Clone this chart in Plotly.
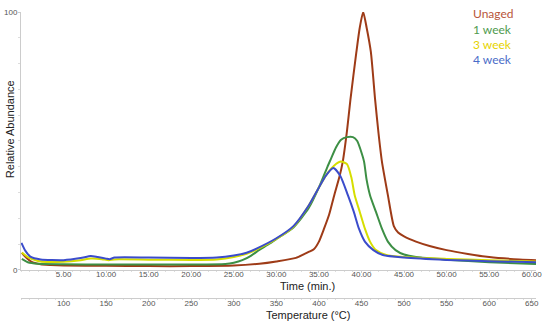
import plotly.graph_objects as go

# ---- data ----
t_unaged = [0.1, 0.6, 1.2, 2.3, 3.5, 5, 10, 15, 20, 25, 28, 30, 32.3, 33.8, 34.4, 35.0, 35.6, 36.2, 36.8, 37.4, 37.8, 38.3, 38.7, 39.4, 39.8, 40.2, 40.6, 41.1, 41.6, 42.0, 42.4, 43.1, 43.8, 44.3, 45.0, 46.4, 48, 50, 52.5, 55, 57.5, 60.5]
v_unaged = [6.6, 4.8, 3.2, 2.2, 1.9, 1.7, 1.6, 1.5, 1.5, 1.7, 2.4, 3.3, 4.7, 7.0, 8.0, 11.0, 16.0, 21.5, 29.0, 36.0, 42.0, 54.0, 66.0, 84.5, 94.0, 100.0, 94.0, 84.5, 66.0, 53.0, 42.0, 29.0, 17.0, 14.5, 13.0, 11.0, 9.3, 7.7, 6.2, 5.0, 4.3, 3.8]

t_1week = [0.1, 0.8, 2, 5, 10, 15, 20, 24, 25, 26, 27, 28, 29, 30, 32, 33.8, 35, 36, 36.4, 37, 37.6, 38.3, 39.0, 39.5, 39.9, 40.3, 40.6, 41.0, 41.7, 42.4, 43.1, 44.0, 45, 47, 50, 55, 60.5]
v_1week = [4.3, 3.0, 2.4, 2.2, 2.1, 2.1, 2.1, 2.3, 2.8, 3.8, 5.5, 7.8, 9.8, 12.0, 16.5, 24.0, 32.0, 40.0, 43.0, 47.5, 50.5, 51.5, 51.5, 50.0, 46.5, 42.0, 35.0, 29.0, 22.5, 16.0, 11.0, 7.7, 6.0, 4.8, 4.0, 3.0, 2.3]

t_3week = [0.1, 0.8, 2, 3, 5, 7, 8.2, 9.5, 10.3, 11, 15, 20, 23, 25, 26.5, 27.6, 30, 32, 33.8, 35, 36, 36.8, 37.6, 38.3, 38.8, 39.2, 39.8, 40.4, 41.0, 41.7, 42.9, 45, 50, 55, 60.5]
v_3week = [6.8, 5.0, 3.5, 3.1, 3.2, 3.8, 4.4, 4.2, 3.8, 4.1, 4.0, 3.9, 4.1, 5.0, 6.3, 7.8, 12.0, 16.7, 25.0, 32.0, 37.5, 40.5, 42.0, 41.0, 36.0, 29.0, 22.5, 16.0, 11.0, 7.7, 5.8, 5.0, 4.3, 3.8, 3.3]

t_4week = [0.05, 0.5, 1.1, 2.3, 5, 7, 8.2, 9, 10, 10.4, 11, 15, 20, 23, 25, 26.5, 27.6, 30, 32, 33.8, 35, 35.8, 36.7, 37.5, 38.4, 39.1, 39.7, 40.4, 41.4, 42.5, 45, 50, 55, 60.5]
v_4week = [10.5, 7.5, 5.2, 4.1, 3.8, 4.6, 5.4, 5.0, 4.4, 4.2, 4.8, 4.8, 4.6, 4.8, 5.6, 6.7, 8.2, 12.3, 17.0, 25.0, 32.0, 36.5, 39.5, 36.5, 29.0, 22.5, 16.0, 11.0, 7.7, 5.8, 4.8, 3.9, 3.4, 3.0]

series_names = ["Unaged", "1 week", "3 week", "4 week"]
line_colors = ["#9E3B17", "#3D8F45", "#D6DE00", "#3B4CCB"]
label_colors = ["#B8553A", "#4E9A4E", "#E6D300", "#4A6CC8"]

time_ticks = [5, 10, 15, 20, 25, 30, 35, 40, 45, 50, 55, 60]
time_ticktext = ["%.2f" % v for v in time_ticks]
temp_ticks = [100, 150, 200, 250, 300, 350, 400, 450, 500, 550, 600, 650]
temp_range = [50, 655]
time_range = [0, 60.5]
y_ticks = [0, 100]

fig = go.Figure()
for tt, vv, col in [(t_unaged, v_unaged, line_colors[0]), (t_1week, v_1week, line_colors[1]),
                    (t_3week, v_3week, line_colors[2]), (t_4week, v_4week, line_colors[3])]:
    fig.add_trace(go.Scatter(x=tt, y=vv, mode="lines", line=dict(color=col, width=2, shape="spline", smoothing=0.6),
                             showlegend=False, hoverinfo="skip"))

# invisible trace to carry the temperature axis
fig.add_trace(go.Scatter(x=temp_range, y=[None, None], xaxis="x2", yaxis="y", mode="lines",
                         showlegend=False, hoverinfo="skip"))

tickfont = dict(family="Liberation Sans, Arial, sans-serif", size=8, color="#555555")
fig.update_layout(
    width=550, height=324,
    margin=dict(l=21, r=14, t=12, b=26, autoexpand=False),
    plot_bgcolor="white", paper_bgcolor="white",
    xaxis=dict(range=time_range, tickvals=time_ticks, ticktext=time_ticktext, showgrid=False, zeroline=False,
               showline=True, linecolor="#cccccc", linewidth=1, ticks="outside", ticklen=2, tickcolor="#cccccc",
               minor=dict(ticks="outside", ticklen=1, dtick=1, tickcolor="#dddddd"),
               tickfont=tickfont, anchor="y", automargin=False, ticklabelstandoff=-6),
    xaxis2=dict(range=temp_range, tickvals=temp_ticks, overlaying="x", anchor="free", position=0, side="bottom",
                showgrid=False, zeroline=False, showline=True, linecolor="#cccccc", linewidth=1,
                ticks="outside", ticklen=2, tickcolor="#cccccc",
                minor=dict(ticks="outside", ticklen=1, dtick=10, tickcolor="#dddddd"),
                tickfont=tickfont, automargin=False, ticklabelstandoff=-5),
    yaxis=dict(range=[0, 100], domain=[0.098, 1], tickvals=y_ticks, showgrid=False, zeroline=False,
               showline=True, linecolor="#cccccc", linewidth=1, ticks="outside", ticklen=2, tickcolor="#cccccc",
               minor=dict(ticks="outside", ticklen=2, dtick=10, tickcolor="#dddddd"),
               tickfont=tickfont, automargin=False, ticklabelstandoff=-1),
)

titlefont = dict(family="Liberation Sans, Arial, sans-serif", size=11, color="#222222")
fig.add_annotation(text="Time (min.)", x=0.557, y=0.042, xref="paper", yref="paper", showarrow=False,
                   font=titlefont, xanchor="center", yanchor="middle")
fig.add_annotation(text="Temperature (°C)", x=0.557, y=-0.058, xref="paper", yref="paper", showarrow=False,
                   font=titlefont, xanchor="center", yanchor="middle")
fig.add_annotation(text="Relative Abundance", x=-0.021, y=0.591, xref="paper", yref="paper", showarrow=False,
                   font=titlefont, textangle=-90, xanchor="center", yanchor="middle")

legend_y = [14, 29, 44, 60]
for name, col, py in zip(series_names, label_colors, legend_y):
    fig.add_annotation(text=name, x=0.874, y=(298 - py) / 286, xref="paper", yref="paper", showarrow=False,
                       font=dict(family="Lato, sans-serif", size=12, color=col), xanchor="left", yanchor="middle")

fig.write_html("out.html", config={"displayModeBar": False},
               post_script="document.body.style.margin='0';document.body.style.padding='0';")
